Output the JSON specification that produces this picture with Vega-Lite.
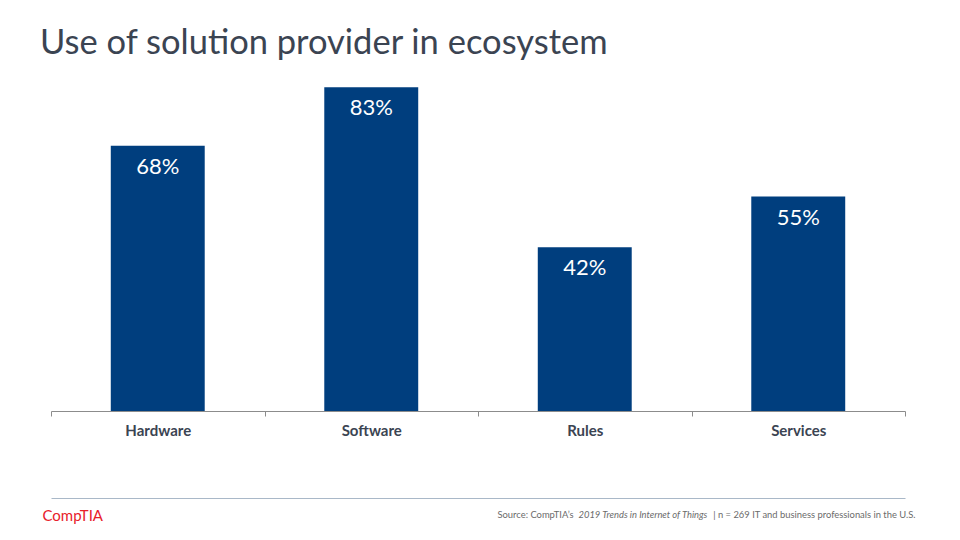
{
  "$schema": "https://vega.github.io/schema/vega-lite/v6.json",
  "width": 854,
  "height": 351,
  "autosize": {"type": "none"},
  "padding": {"left": 51, "top": 60, "right": 55, "bottom": 129},
  "background": "white",
  "config": {"view": {"stroke": null}, "font": "Lato"},
  "title": {
    "text": "Use of solution provider in ecosystem",
    "anchor": "start",
    "frame": "group",
    "baseline": "alphabetic",
    "offset": -28,
    "dx": -11,
    "fontSize": 34.5,
    "font": "Lato",
    "fontWeight": "normal",
    "color": "#3b4452"
  },
  "data": {
    "values": [
      {"category": "Hardware", "value": 0.68},
      {"category": "Software", "value": 0.83},
      {"category": "Rules", "value": 0.42},
      {"category": "Services", "value": 0.55}
    ]
  },
  "encoding": {
    "y": {
      "field": "value",
      "type": "quantitative",
      "scale": {"domain": [0, 0.9], "nice": false, "zero": true},
      "axis": {
        "title": "CompTIA",
        "domain": false,
        "ticks": false,
        "labels": false,
        "grid": false,
        "titleAngle": 0,
        "titleX": -9,
        "titleY": 460,
        "titleAlign": "left",
        "titleBaseline": "alphabetic",
        "titleFont": "Lato",
        "titleFontSize": 15,
        "titleFontWeight": "normal",
        "titleColor": "#e8202a"
      }
    }
  },
  "layer": [
    {
      "mark": {"type": "bar", "color": "#003e7e", "width": {"band": 0.44}},
      "encoding": {
        "x": {
          "field": "category",
          "type": "nominal",
          "sort": null,
          "scale": {"paddingInner": 0, "paddingOuter": 0},
          "axis": {
            "orient": "bottom",
            "tickBand": "extent",
            "ticks": true,
            "domainColor": "#8c8c8c",
            "tickColor": "#8c8c8c",
            "tickSize": 5,
            "tickWidth": 1,
            "labelAngle": 0,
            "labelFont": "Lato",
            "labelFontSize": 15,
            "labelFontWeight": "bold",
            "labelColor": "#3b4452",
            "labelPadding": 7,
            "grid": false,
            "title": "Source: CompTIA’s",
            "titleX": 446,
            "titleY": 106,
            "titleAlign": "left",
            "titleBaseline": "alphabetic",
            "titleFont": "Lato",
            "titleFontSize": 9.4,
            "titleFontWeight": "normal",
            "titleColor": "#6b6b6b"
          }
        }
      }
    },
    {
      "mark": {"type": "text", "baseline": "middle", "dy": 21, "color": "white", "fontSize": 22, "font": "Lato"},
      "encoding": {
        "text": {"field": "value", "format": ".0%"},
        "x": {
          "field": "category",
          "type": "nominal",
          "sort": null,
          "axis": {
            "orient": "bottom",
            "offset": 87,
            "domainColor": "#a9b8c8",
            "domainWidth": 1.2,
            "ticks": false,
            "labels": false,
            "grid": false,
            "title": "2019 Trends in Internet of Things",
            "titleX": 527,
            "titleY": 19,
            "titleAlign": "left",
            "titleBaseline": "alphabetic",
            "titleFont": "Lato",
            "titleFontSize": 9.4,
            "titleFontStyle": "italic",
            "titleFontWeight": "normal",
            "titleColor": "#6b6b6b"
          }
        }
      }
    },
    {
      "mark": {"type": "bar", "opacity": 0, "width": {"band": 0.44}},
      "encoding": {
        "x": {
          "field": "category",
          "type": "nominal",
          "sort": null,
          "axis": {
            "orient": "bottom",
            "domain": false,
            "ticks": false,
            "labels": false,
            "grid": false,
            "title": "| n = 269 IT and business professionals in the U.S.",
            "titleX": 864,
            "titleY": 106,
            "titleAlign": "right",
            "titleBaseline": "alphabetic",
            "titleFont": "Lato",
            "titleFontSize": 9.4,
            "titleFontWeight": "normal",
            "titleColor": "#6b6b6b"
          }
        }
      }
    }
  ],
  "resolve": {"axis": {"x": "independent"}}
}
